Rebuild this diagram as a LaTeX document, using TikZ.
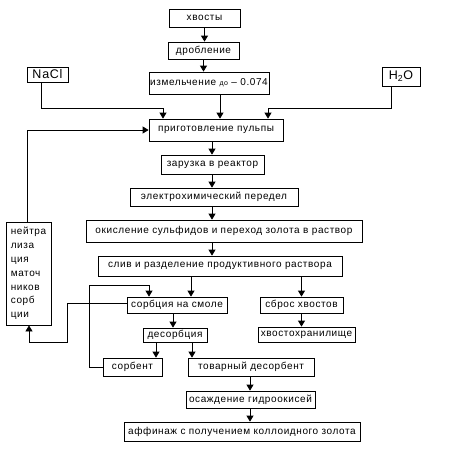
\documentclass[tikz,border=0pt]{standalone}
\usepackage{fontspec}
\setmainfont{Liberation Sans}[LetterSpace=6]
\usetikzlibrary{arrows.meta}
\begin{document}
\begin{tikzpicture}[x=1pt,y=-1pt,
  box/.style={draw,line width=0.8pt,inner sep=0pt,font=\fontsize{10}{12}\selectfont},
  wire/.style={line width=0.8pt},
  arr/.style={wire,-{Triangle[width=7pt,length=6pt]}}]
\useasboundingbox (0,0) rectangle (470,448);
% nodes
\node[box,minimum width=71pt,minimum height=18pt] (tails) at (204.5,18) {хвосты};
\node[box,minimum width=71pt,minimum height=17pt] (drob) at (203.5,50.5) {дробление};
\node[box,minimum width=120pt,minimum height=22pt] (izm) at (209,83) {измельчение {\fontsize{7}{8}\selectfont до} – 0.074};
\node[box,minimum width=41pt,minimum height=15pt,font=\fontsize{12.5}{14}\selectfont] (nacl) at (47.5,74.5) {NaCl};
\node[box,minimum width=38pt,minimum height=19pt,font=\fontsize{12.5}{14}\selectfont] (h2o) at (401,76.5) {H\textsubscript{2}O};
\node[box,minimum width=134pt,minimum height=22pt] (pulp) at (216,130) {приготовление пульпы};
\node[box,minimum width=103pt,minimum height=19pt] (zar) at (212.5,164.5) {зарузка в реактор};
\node[box,minimum width=168pt,minimum height=18pt] (elec) at (214,197) {электрохимический передел};
\node[box,minimum width=276pt,minimum height=22pt] (oxid) at (224,231) {окисление сульфидов и переход золота в раствор};
\node[box,minimum width=244pt,minimum height=20pt] (sliv) at (220,266) {слив и разделение продуктивного раствора};
\node[box,minimum width=45pt,minimum height=103pt,align=left,font=\fontsize{10}{13.8}\selectfont] (neut) at (28.5,273.5) {нейтра\\лиза\\ция\\маточ\\ников\\сорб\\ции};
\node[box,minimum width=100pt,minimum height=16pt] (sorb) at (177,305) {сорбция на смоле};
\node[box,minimum width=83pt,minimum height=16pt] (sbros) at (301.5,305) {сброс хвостов};
\node[box,minimum width=97pt,minimum height=15pt] (hvost) at (306.5,334.5) {хвостохранилище};
\node[box,minimum width=64pt,minimum height=14pt] (desorb) at (175,335) {десорбция};
\node[box,minimum width=59pt,minimum height=18pt] (sorbent) at (132.5,367) {сорбент};
\node[box,minimum width=126pt,minimum height=18pt] (tovar) at (251,367) {\raisebox{3pt}{товарный десорбент}};
\node[box,minimum width=129pt,minimum height=17pt] (osazh) at (250.5,399.5) {осаждение гидроокисей};
\node[box,minimum width=236pt,minimum height=19pt] (affin) at (242,431.5) {аффинаж с получением коллоидного золота};
% helper coordinates
\coordinate (c163) at (163,108);
\coordinate (c268) at (268,108);
\coordinate (c220) at (220,0);
\coordinate (c212) at (212,0);
\coordinate (c191) at (191,0);
\coordinate (c173) at (173,0);
\coordinate (c156) at (156,0);
\coordinate (c192) at (192,0);
\coordinate (c250) at (250,0);
\coordinate (c89) at (89,285);
\coordinate (c149) at (149,285);
\coordinate (c67) at (67,342);
% connectors
\draw[arr] (tails.south) -- (tails.south |- drob.north);
\draw[arr] (drob.south) -- (drob.south |- izm.north);
\draw[arr] ([xshift=-6.5pt]nacl.south) |- (c163) -- (c163 |- pulp.north);
\draw[arr] (izm.south -| c220) -- (pulp.north -| c220);
\draw[arr] ([xshift=-10pt]h2o.south) |- (c268) -- (c268 |- pulp.north);
\draw[arr] ([xshift=-1.5pt]neut.north) |- (pulp.west);
\draw[arr] (pulp.south -| c212) -- (zar.north -| c212);
\draw[arr] (zar.south -| c212) -- (elec.north -| c212);
\draw[arr] (elec.south -| c212) -- (oxid.north -| c212);
\draw[arr] (oxid.south -| c212) -- (sliv.north -| c212);
\draw[arr] (sliv.south -| c191) -- (sorb.north -| c191);
\draw[arr] (sliv.south -| sbros.north) -- (sbros.north);
\draw[arr] (sorbent.west) -| (c89) -- (c149) -- (c149 |- sorb.north);
\draw[arr] ([yshift=2pt]sorb.west) -| (c67) -| ([xshift=0.5pt]neut.south);
\draw[arr] (sorb.south -| c173) -- (desorb.north -| c173);
\draw[arr] (sbros.south) -- (sbros.south |- hvost.north);
\draw[arr] (desorb.south -| c156) -- (sorbent.north -| c156);
\draw[arr] (desorb.south -| c192) -- (tovar.north -| c192);
\draw[arr] (tovar.south -| c250) -- (osazh.north -| c250);
\draw[arr] (osazh.south -| c250) -- (affin.north -| c250);
\end{tikzpicture}
\end{document}
